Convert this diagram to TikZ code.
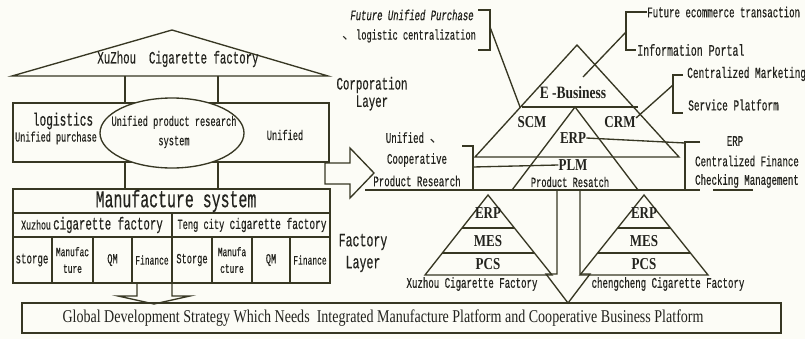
\documentclass[tikz,border=0pt]{standalone}
\usepackage{fontspec}
\setmainfont[FakeStretch=0.78]{Liberation Serif}
\newfontfamily\monof[FakeStretch=0.62,FakeBold=0.4]{Liberation Mono}
\newfontfamily\cjk{Noto Sans CJK SC}
\definecolor{ln}{RGB}{55,55,35}
\definecolor{bg}{RGB}{252,252,246}
\definecolor{tx}{RGB}{35,35,30}
\begin{document}
\begin{tikzpicture}[x=0.75pt,y=-0.75pt,
  ln/.style={draw=ln,line width=1pt},
  mono/.style={inner sep=0pt,text=tx,align=center,font=\monof\fontsize{#1}{#1}\selectfont},
  mono/.default=10.5,
  ser/.style={inner sep=0pt,text=tx,align=center,font=\fontsize{#1}{#1}\selectfont},
  ser/.default=9,
  bld/.style={inner sep=0pt,text=tx,font=\bfseries\fontsize{#1}{#1}\selectfont},
  bld/.default=12
]
\fill[bg] (0,0) rectangle (805,339);
\useasboundingbox (0,0) rectangle (805,339);

% ---------- left: roof ----------
\draw[ln] (12,76) -- (172,30) -- (328,76) -- cycle;
\node[mono=13] (roof) at (178,59) {XuZhou\ \ Cigarette factory};
\coordinate (r1) at (125,76); \coordinate (r2) at (218,76);
\draw[ln] (13,103) rectangle (329,162);
\draw[ln] (r1) -- (125,103);
\draw[ln] (r2) -- (218,103);
\draw[ln] (125,162) -- (125,189);
\draw[ln] (218,162) -- (218,189);
\node[mono=13.5] (logi) at (63,121) {logistics};
\node[mono=10.3] (upur) at (56,138) {Unified purchase};
\draw[ln,fill=bg] (172,133) ellipse [x radius=72, y radius=35];
\node[mono=10.5,align=center] (ups) at (174,132) {Unified product research\\[4pt]system};
\node[mono=10.5] (unif) at (285,135) {Unified};
\node[mono=13] (corp) at (372,85) {Corporation};
\node[mono=13] (corpl) at (372,103) {Layer};

% ---------- manufacture system ----------
\draw[ln] (13,189) rectangle (330,283);
\draw[ln] (13,213) -- (330,213);
\draw[ln] (13,237) -- (330,237);
\node[mono=18] (ms) at (176,201) {Manufacture system};
\node[mono=10] (xzc) at (92,225) {\fontsize{10}{10}\selectfont Xuzhou\,\fontsize{13}{13}\selectfont cigarette factory};
\node[mono=10] (tcc) at (252,225) {\fontsize{10.5}{10.5}\selectfont Teng city \fontsize{11.5}{11.5}\selectfont cigarette factory};
\foreach \xx in {52,93,132,212,252,290} \draw[ln] (\xx,237) -- (\xx,283);
\draw[ln] (172,213) -- (172,283);
\node[mono=11] at (32,260) {storge};
\node[mono=9.5] at (72.5,260) {Manufac\\[3pt]ture};
\node[mono=10.5] at (112.5,260) {QM};
\node[mono=9.6] at (152,260) {Finance};
\node[mono=10.5] at (192,260) {Storge};
\node[mono=9.5] at (232,260) {Manufa\\[3pt]cture};
\node[mono=10.5] at (271,260) {QM};
\node[mono=9.6] at (310,260) {Finance};
\node[mono=14] (fac) at (363,242) {Factory};
\node[mono=14] (facl) at (363,264) {Layer};

% down arrow to bottom box
\draw[ln] (137,283) -- (137,296) -- (118,296) -- (154,304) -- (190,296) -- (172,296) -- (172,283);

% bottom box
\draw[ln] (22,303) rectangle (781,333);
\node[ser=13.5] (glob) at (383,318) {Global Development Strategy Which Needs\ \ Integrated Manufacture Platform and Cooperative Business Platform};

% hollow right arrow
\draw[ln] (325,163) -- (350,163) -- (350,148) -- (374,173) -- (350,198) -- (350,184) -- (325,184) -- cycle;

% ---------- right: corporation pyramid ----------
\draw[ln] (475,157) -- (577,45) -- (679,157) -- cycle;
\draw[ln] (522,107) -- (638,107);
\draw[ln] (512,190) -- (575,107) -- (638,190);
\draw[ln] (365,190) -- (700,190);
\draw[ln] (713,190) -- (753,190);
\node[bld=13] (eb) at (573,93) {E -Business};
\node[bld=12.5] (scm) at (532,122) {SCM};
\node[bld=12.5] (crm) at (620,122) {CRM};
\node[bld=12.5] (erp) at (573,138) {ERP};
\node[bld=12.5] (plm) at (573,165) {PLM};
\node[mono=10.5] (pr) at (570,182) {Product Resatch};

% left bracket: unified cooperative research
\node[mono=11] (ucr1) at (415,138) {Unified {\cjk 、}};
\node[mono=11] (ucr2) at (417,160) {Cooperative};
\node[mono=11] (ucr3) at (417,181) {Product Research};
\draw[ln] (462,146) -- (473,146) -- (473,190);
\coordinate (bl) at (473,167);
\draw[ln] (bl) -- (plm.west);

% top-left bracket: future unified purchase
\node[inner sep=0pt,text=tx,font=\monof\itshape\fontsize{10.8}{10.8}\selectfont] (fup) at (412,15) {Future Unified Purchase};
\node[mono=10.5] (lgc) at (409,36) {{\cjk 、}logistic centralization};
\draw[ln] (478,10) -- (490,10) -- (490,50) -- (478,50);
\coordinate (b1) at (490,27);
\coordinate (scmtop) at (520,107);
\draw[ln] (b1) -- (scmtop);

% top-right bracket: e-commerce
\node[mono=11,anchor=west] (fet) at (647,12) {Future ecommerce transaction};
\node[mono=12,anchor=west] (ip) at (637,50) {Information Portal};
\draw[ln] (647,12) -- (626,12) -- (626,50) -- (636,50);
\coordinate (b2) at (626,32);
\coordinate (ebtop) at (583,77);
\draw[ln] (b2) -- (ebtop);

% crm bracket
\node[mono=11.4,anchor=west] (cm) at (687,74) {Centralized Marketing};
\node[mono=11.4,anchor=west] (sp) at (688,105) {Service Platform};
\draw[ln] (683,75) -- (673,75) -- (673,113) -- (683,113);
\coordinate (b3) at (673,85);
\coordinate (crmc) at (636,118);
\draw[ln] (b3) -- (crmc);

% erp bracket
\node[mono=11] (erp2) at (735,141) {ERP};
\node[mono=11] (cf) at (747,161) {Centralized Finance};
\node[mono=11] (chm) at (747,181) {Checking Management};
\draw[ln] (700,142) -- (685,142) -- (685,190);
\coordinate (b4) at (685,143);
\draw[ln] (erp.east) -- (b4);

% ---------- factory pyramids ----------
\draw[ln] (425,275) -- (488,195) -- (552,275) -- cycle;
\draw[ln] (462,228) -- (514,228);
\draw[ln] (442,253) -- (534,253);
\node[bld=12.5] at (488,213) {ERP};
\node[bld=12.5] at (488,241) {MES};
\node[bld=12.5] at (488,264) {PCS};
\node[mono=11] at (472,284) {Xuzhou Cigarette Factory};

\draw[ln] (580,275) -- (644,195) -- (708,275) -- cycle;
\draw[ln] (618,228) -- (670,228);
\draw[ln] (598,253) -- (690,253);
\node[bld=12.5] at (644,213) {ERP};
\node[bld=12.5] at (644,241) {MES};
\node[bld=12.5] at (644,264) {PCS};
\node[mono=11] at (668,284) {chengcheng Cigarette Factory};

% down arrow between pyramids
\draw[ln] (557,190) -- (557,274) -- (546,274) -- (568,303) -- (590,274) -- (580,274) -- (580,190);
\end{tikzpicture}
\end{document}
